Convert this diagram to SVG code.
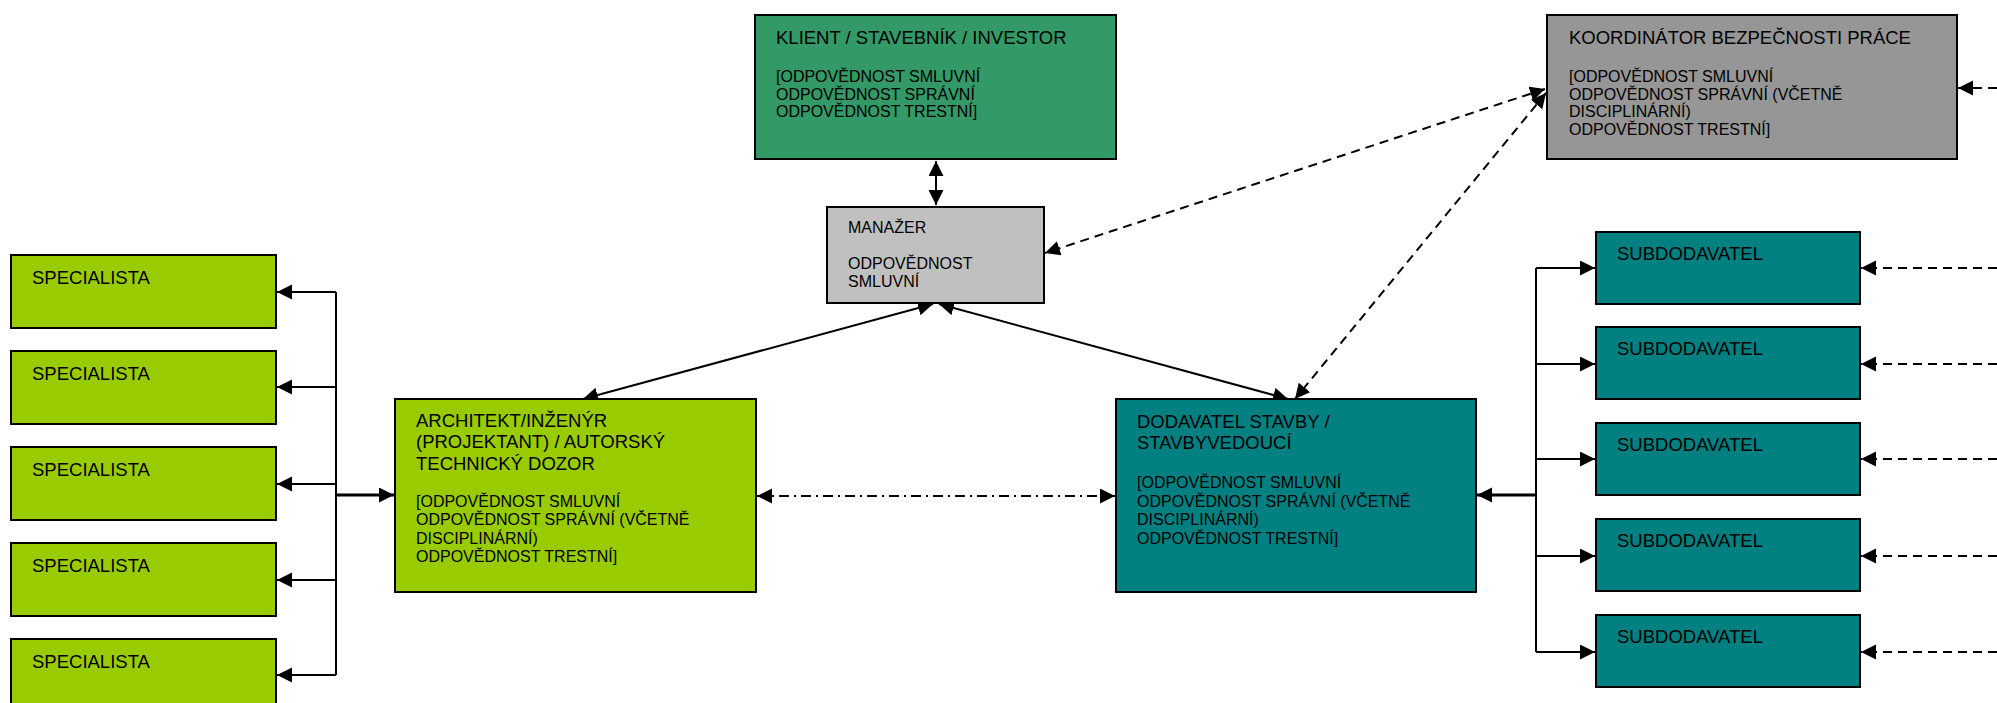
<svg xmlns="http://www.w3.org/2000/svg" width="1997" height="703" viewBox="0 0 1997 703">
<style>
.box{stroke:#000;stroke-width:2}
.green{fill:#339966}
.lime{fill:#99cc00}
.teal{fill:#008080}
.lgray{fill:#c0c0c0}
.dgray{fill:#969696}
text{font-family:"Liberation Sans",Arial,sans-serif;fill:#000}
.t{font-size:18.5px}
.b{font-size:16px}
.c{fill:none;stroke:#000;stroke-width:2}
.thick{stroke-width:3}
.dash{stroke-dasharray:9,6}
.dd{stroke-dasharray:10,5,2,5}
</style>
<defs>
<marker id="ah" markerUnits="userSpaceOnUse" markerWidth="16" markerHeight="16" refX="15" refY="7.5" orient="auto-start-reverse" viewBox="0 0 16 16">
<path d="M0,0 L15,7.5 L0,15 z" fill="#000"/>
</marker>
</defs>
<rect width="1997" height="703" fill="#fff"/>

<g id="connectors">
<line class="c" x1="936" y1="161" x2="936" y2="205" marker-start="url(#ah)" marker-end="url(#ah)"/>
<line class="c" x1="933" y1="304" x2="583" y2="399" marker-start="url(#ah)" marker-end="url(#ah)"/>
<line class="c" x1="939" y1="304" x2="1288" y2="399" marker-start="url(#ah)" marker-end="url(#ah)"/>
<line class="c dash" x1="1545" y1="89" x2="1045" y2="253" marker-start="url(#ah)" marker-end="url(#ah)"/>
<line class="c dash" x1="1546" y1="93" x2="1295" y2="399" marker-start="url(#ah)" marker-end="url(#ah)"/>
<line class="c dd" x1="757" y1="496" x2="1115" y2="496" marker-start="url(#ah)" marker-end="url(#ah)"/>
<line class="c dash" x1="1997" y1="88" x2="1958" y2="88" marker-end="url(#ah)"/>

<path class="c" d="M336,292 V675"/>
<path class="c" d="M336,292 H277" marker-end="url(#ah)"/>
<path class="c" d="M336,387 H277" marker-end="url(#ah)"/>
<path class="c" d="M336,484 H277" marker-end="url(#ah)"/>
<path class="c" d="M336,580 H277" marker-end="url(#ah)"/>
<path class="c" d="M336,675 H277" marker-end="url(#ah)"/>
<path class="c thick" d="M335,495 H394" marker-end="url(#ah)"/>

<path class="c" d="M1536,268 V652"/>
<path class="c" d="M1536,268 H1595" marker-end="url(#ah)"/>
<path class="c" d="M1536,364 H1595" marker-end="url(#ah)"/>
<path class="c" d="M1536,459 H1595" marker-end="url(#ah)"/>
<path class="c" d="M1536,556 H1595" marker-end="url(#ah)"/>
<path class="c" d="M1536,652 H1595" marker-end="url(#ah)"/>
<path class="c thick" d="M1537,495 H1477" marker-end="url(#ah)"/>

<path class="c dash" d="M1997,268 H1861" marker-end="url(#ah)"/>
<path class="c dash" d="M1997,364 H1861" marker-end="url(#ah)"/>
<path class="c dash" d="M1997,459 H1861" marker-end="url(#ah)"/>
<path class="c dash" d="M1997,556 H1861" marker-end="url(#ah)"/>
<path class="c dash" d="M1997,652 H1861" marker-end="url(#ah)"/>
</g>

<g id="klient">
<rect class="box green" x="755" y="15" width="361" height="144"/>
<text class="t" x="776" y="44">KLIENT / STAVEBNÍK / INVESTOR</text>
<text class="b" x="776" y="82">[ODPOVĚDNOST SMLUVNÍ</text>
<text class="b" x="776" y="100">ODPOVĚDNOST SPRÁVNÍ</text>
<text class="b" x="776" y="117">ODPOVĚDNOST TRESTNÍ]</text>
</g>

<g id="koordinator">
<rect class="box dgray" x="1547" y="15" width="410" height="144"/>
<text class="t" x="1569" y="44">KOORDINÁTOR BEZPEČNOSTI PRÁCE</text>
<text class="b" x="1569" y="82">[ODPOVĚDNOST SMLUVNÍ</text>
<text class="b" x="1569" y="100">ODPOVĚDNOST SPRÁVNÍ (VČETNĚ</text>
<text class="b" x="1569" y="117">DISCIPLINÁRNÍ)</text>
<text class="b" x="1569" y="135">ODPOVĚDNOST TRESTNÍ]</text>
</g>

<g id="manazer">
<rect class="box lgray" x="827" y="207" width="217" height="96"/>
<text class="b" x="848" y="233">MANAŽER</text>
<text class="b" x="848" y="269">ODPOVĚDNOST</text>
<text class="b" x="848" y="287">SMLUVNÍ</text>
</g>

<g id="architekt">
<rect class="box lime" x="395" y="399" width="361" height="193"/>
<text class="t" x="416" y="427">ARCHITEKT/INŽENÝR</text>
<text class="t" x="416" y="448">(PROJEKTANT) / AUTORSKÝ</text>
<text class="t" x="416" y="470">TECHNICKÝ DOZOR</text>
<text class="b" x="416" y="507">[ODPOVĚDNOST SMLUVNÍ</text>
<text class="b" x="416" y="525">ODPOVĚDNOST SPRÁVNÍ (VČETNĚ</text>
<text class="b" x="416" y="544">DISCIPLINÁRNÍ)</text>
<text class="b" x="416" y="562">ODPOVĚDNOST TRESTNÍ]</text>
</g>

<g id="dodavatel">
<rect class="box teal" x="1116" y="399" width="360" height="193"/>
<text class="t" x="1137" y="428">DODAVATEL STAVBY /</text>
<text class="t" x="1137" y="449">STAVBYVEDOUCÍ</text>
<text class="b" x="1137" y="488">[ODPOVĚDNOST SMLUVNÍ</text>
<text class="b" x="1137" y="507">ODPOVĚDNOST SPRÁVNÍ (VČETNĚ</text>
<text class="b" x="1137" y="525">DISCIPLINÁRNÍ)</text>
<text class="b" x="1137" y="544">ODPOVĚDNOST TRESTNÍ]</text>
</g>

<g id="specialista1"><rect class="box lime" x="11" y="255" width="265" height="73"/><text class="t" x="32" y="284">SPECIALISTA</text></g>
<g id="specialista2"><rect class="box lime" x="11" y="351" width="265" height="73"/><text class="t" x="32" y="380">SPECIALISTA</text></g>
<g id="specialista3"><rect class="box lime" x="11" y="447" width="265" height="73"/><text class="t" x="32" y="476">SPECIALISTA</text></g>
<g id="specialista4"><rect class="box lime" x="11" y="543" width="265" height="73"/><text class="t" x="32" y="572">SPECIALISTA</text></g>
<g id="specialista5"><rect class="box lime" x="11" y="639" width="265" height="73"/><text class="t" x="32" y="668">SPECIALISTA</text></g>

<g id="subdodavatel1"><rect class="box teal" x="1596" y="232" width="264" height="72"/><text class="t" x="1617" y="260">SUBDODAVATEL</text></g>
<g id="subdodavatel2"><rect class="box teal" x="1596" y="327" width="264" height="72"/><text class="t" x="1617" y="355">SUBDODAVATEL</text></g>
<g id="subdodavatel3"><rect class="box teal" x="1596" y="423" width="264" height="72"/><text class="t" x="1617" y="451">SUBDODAVATEL</text></g>
<g id="subdodavatel4"><rect class="box teal" x="1596" y="519" width="264" height="72"/><text class="t" x="1617" y="547">SUBDODAVATEL</text></g>
<g id="subdodavatel5"><rect class="box teal" x="1596" y="615" width="264" height="72"/><text class="t" x="1617" y="643">SUBDODAVATEL</text></g>
</svg>
